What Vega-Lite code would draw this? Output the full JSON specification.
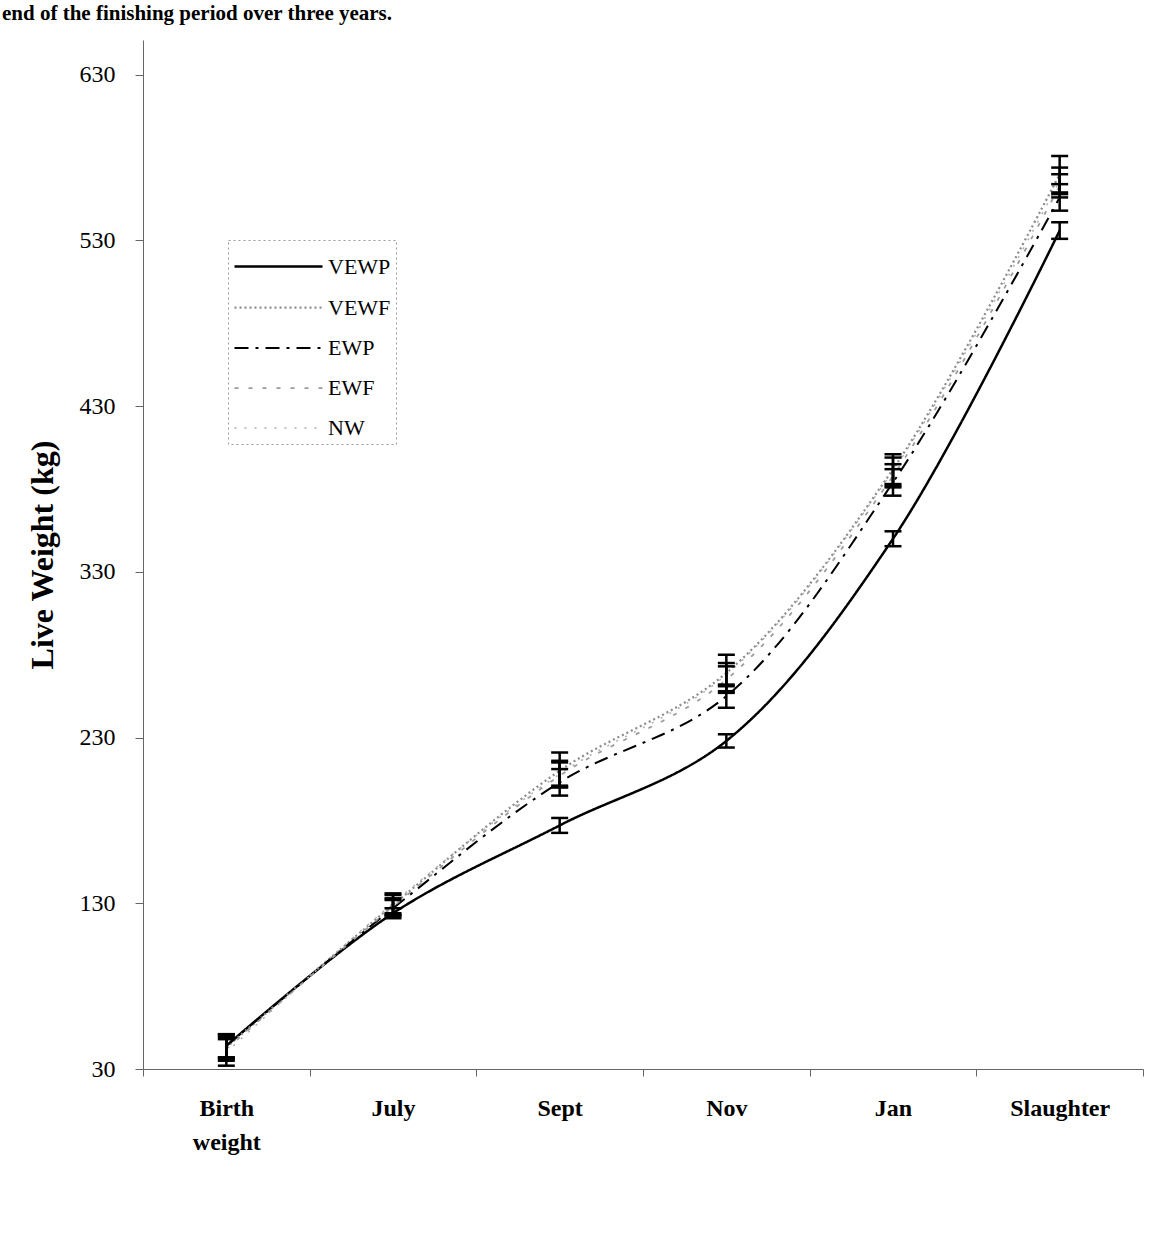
{
  "$schema": "https://vega.github.io/schema/vega-lite/v6.json",
  "width": 1000,
  "height": 1029,
  "autosize": {"type": "none"},
  "padding": {"left": 143, "top": 40, "right": 16, "bottom": 187},
  "background": "white",
  "title": {
    "text": "end of the finishing period over three years.",
    "anchor": "start",
    "frame": "group",
    "dx": -141,
    "offset": 16,
    "font": "Liberation Serif",
    "fontSize": 21,
    "fontWeight": "bold",
    "color": "#000"
  },
  "config": {
    "view": {"stroke": null},
    "axis": {"grid": false, "domainColor": "#666", "tickColor": "#666", "labelColor": "#000", "titleColor": "#000"},
    "tick": {"thickness": 2.5}
  },
  "data": {
    "values": [
      {"series": "VEWP", "period": "Birth weight", "mean": 44, "lo": 37, "hi": 51},
      {"series": "VEWP", "period": "July", "mean": 124, "lo": 121, "hi": 127},
      {"series": "VEWP", "period": "Sept", "mean": 177, "lo": 172.5, "hi": 181.5},
      {"series": "VEWP", "period": "Nov", "mean": 228, "lo": 224, "hi": 232},
      {"series": "VEWP", "period": "Jan", "mean": 350, "lo": 345.5, "hi": 354.5},
      {"series": "VEWP", "period": "Slaughter", "mean": 536, "lo": 531, "hi": 541},
      {"series": "VEWF", "period": "Birth weight", "mean": 43, "lo": 36, "hi": 50},
      {"series": "VEWF", "period": "July", "mean": 129, "lo": 123, "hi": 135},
      {"series": "VEWF", "period": "Sept", "mean": 210, "lo": 200, "hi": 221},
      {"series": "VEWF", "period": "Nov", "mean": 269, "lo": 258, "hi": 280},
      {"series": "VEWF", "period": "Jan", "mean": 392, "lo": 382, "hi": 401},
      {"series": "VEWF", "period": "Slaughter", "mean": 570, "lo": 559, "hi": 581},
      {"series": "EWP", "period": "Birth weight", "mean": 44, "lo": 37, "hi": 51},
      {"series": "EWP", "period": "July", "mean": 127, "lo": 122, "hi": 132},
      {"series": "EWP", "period": "Sept", "mean": 203, "lo": 195, "hi": 211},
      {"series": "EWP", "period": "Nov", "mean": 255, "lo": 248, "hi": 262},
      {"series": "EWP", "period": "Jan", "mean": 384, "lo": 376, "hi": 392},
      {"series": "EWP", "period": "Slaughter", "mean": 556, "lo": 548, "hi": 564},
      {"series": "EWF", "period": "Birth weight", "mean": 42, "lo": 35, "hi": 49},
      {"series": "EWF", "period": "July", "mean": 128, "lo": 123, "hi": 133},
      {"series": "EWF", "period": "Sept", "mean": 207, "lo": 200, "hi": 215},
      {"series": "EWF", "period": "Nov", "mean": 265, "lo": 257, "hi": 273},
      {"series": "EWF", "period": "Jan", "mean": 388, "lo": 381, "hi": 395},
      {"series": "EWF", "period": "Slaughter", "mean": 563, "lo": 556, "hi": 570},
      {"series": "NW", "period": "Birth weight", "mean": 40, "lo": 32, "hi": 48},
      {"series": "NW", "period": "July", "mean": 130, "lo": 124, "hi": 136},
      {"series": "NW", "period": "Sept", "mean": 208, "lo": 201, "hi": 216},
      {"series": "NW", "period": "Nov", "mean": 268, "lo": 261, "hi": 275},
      {"series": "NW", "period": "Jan", "mean": 391, "lo": 383, "hi": 399},
      {"series": "NW", "period": "Slaughter", "mean": 566, "lo": 558, "hi": 574}
    ]
  },
  "encoding": {
    "x": {
      "field": "period",
      "type": "nominal",
      "sort": ["Birth weight", "July", "Sept", "Nov", "Jan", "Slaughter"],
      "scale": {"paddingInner": 0, "paddingOuter": 0},
      "axis": {
        "title": null,
        "labelAngle": 0,
        "labelFont": "Liberation Serif",
        "labelFontSize": 24,
        "labelFontWeight": "bold",
        "labelPadding": 20,
        "labelLineHeight": 34,
        "labelExpr": "datum.label == 'Birth weight' ? ['Birth', 'weight'] : datum.label",
        "tickBand": "extent",
        "tickSize": 7,
        "domainColor": "#666"
      }
    }
  },
  "layer": [
    {
      "mark": {"type": "line", "interpolate": "catmull-rom"},
      "encoding": {
        "y": {
          "field": "mean",
          "type": "quantitative",
          "scale": {"domain": [30, 651], "nice": false, "zero": false},
          "axis": {
            "title": "Live Weight (kg)",
            "titleFont": "Liberation Serif",
            "titleFontSize": 32,
            "titleFontWeight": "bold",
            "titlePadding": 20,
            "values": [30, 130, 230, 330, 430, 530, 630],
            "labelFont": "Liberation Serif",
            "labelFontSize": 24,
            "labelPadding": 20,
            "tickSize": 8
          }
        },
        "color": {
          "field": "series",
          "type": "nominal",
          "scale": {"domain": ["VEWP", "VEWF", "EWP", "EWF", "NW"], "range": ["#000000", "#8c8c8c", "#000000", "#9a9a9a", "#b0b0b0"]},
          "legend": {
            "title": null,
            "orient": "none",
            "legendX": 85,
            "legendY": 200,
            "symbolType": "M-1,0H3.4",
            "symbolSize": 1600,
            "labelFont": "Liberation Serif",
            "labelFontSize": 22,
            "labelColor": "#000",
            "labelOffset": 52,
            "rowPadding": 8,
            "padding": 5,
            "strokeColor": "#999",
            "encode": {"legend": {"update": {"strokeDash": {"value": [2, 3]}}}}
          }
        },
        "strokeDash": {
          "field": "series",
          "type": "nominal",
          "scale": {"domain": ["VEWP", "VEWF", "EWP", "EWF", "NW"], "range": [[1, 0], [2, 3], [14, 7, 3, 7], [4, 10], [2, 8]]}
        },
        "strokeWidth": {
          "field": "series",
          "type": "nominal",
          "scale": {"domain": ["VEWP", "VEWF", "EWP", "EWF", "NW"], "range": [2.5, 1.5, 2.5, 1.5, 1.5]}
        },
        "detail": {"field": "series"}
      }
    },
    {
      "mark": {"type": "rule", "color": "#000", "strokeWidth": 2.5},
      "encoding": {
        "y": {"field": "lo", "type": "quantitative"},
        "y2": {"field": "hi"}
      }
    },
    {
      "mark": {"type": "tick", "color": "#000", "size": 17, "thickness": 2.5, "opacity": 1},
      "encoding": {
        "y": {"field": "lo", "type": "quantitative"}
      }
    },
    {
      "mark": {"type": "tick", "color": "#000", "size": 17, "thickness": 2.5, "opacity": 1},
      "encoding": {
        "y": {"field": "hi", "type": "quantitative"}
      }
    }
  ]
}
